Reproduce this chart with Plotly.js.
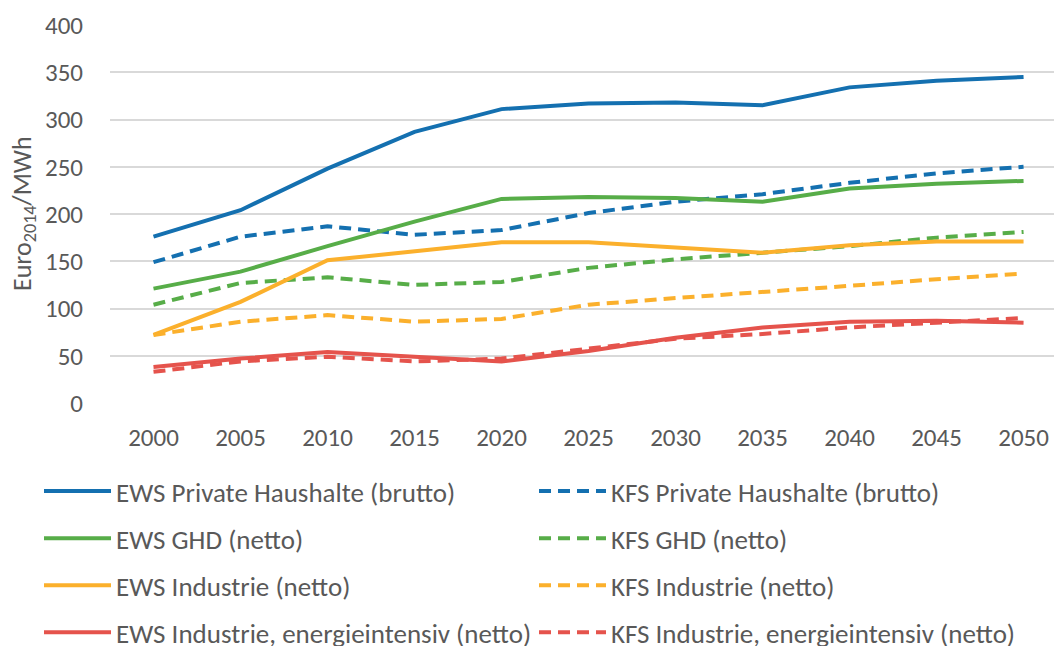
<!DOCTYPE html>
<html>
<head>
<meta charset="utf-8">
<script src="https://cdn.plot.ly/plotly-3.0.1.min.js"></script>
<style>html,body{margin:0;padding:0;overflow:hidden;background:#fff}</style>
</head>
<body>
<div id="chart" style="width:1054px;height:646px"></div>
<script>
const years = ['2000','2005','2010','2015','2020','2025','2030','2035','2040','2045','2050'];
const ewsPrivate = [176, 204, 248, 287, 311, 317, 318, 315, 334, 341, 345];
const kfsPrivate = [149, 176, 187, 178, 183, 201, 213, 221, 233, 243, 250];
const ewsGHD = [121, 139, 166, 192, 216, 218, 217, 213, 227, 232, 235];
const kfsGHD = [104, 127, 133, 125, 128, 143, 152, 159, 166, 175, 181];
const ewsInd = [72, 107, 151, 161, 170, 170, 165, 159, 167, 171, 171];
const kfsInd = [72, 86, 93, 86, 89, 104, 111, 117, 124, 131, 137];
const ewsEI = [38, 47, 54, 49, 44, 55, 69, 80, 86, 87, 85];
const kfsEI = [33, 44, 49, 44, 47, 58, 68, 73, 80, 85, 90];
const yTitle = 'Euro<sub>2014</sub>/MWh';

const names = [
  'EWS Private Haushalte (brutto)', 'KFS Private Haushalte (brutto)',
  'EWS GHD (netto)', 'KFS GHD (netto)',
  'EWS Industrie (netto)', 'KFS Industrie (netto)',
  'EWS Industrie, energieintensiv (netto)', 'KFS Industrie, energieintensiv (netto)'
];
const series = [ewsPrivate, kfsPrivate, ewsGHD, kfsGHD, ewsInd, kfsInd, ewsEI, kfsEI];
const colors = ['#1470b0','#1470b0','#57ad48','#57ad48','#fbb02c','#fbb02c','#e5534c','#e5534c'];

const traces = series.map((v, i) => ({
  x: years, y: v, name: names[i], type: 'scatter', mode: 'lines',
  line: {color: colors[i], width: 4, dash: i % 2 ? '12px,7px' : 'solid'},
  legend: i % 2 ? 'legend2' : 'legend',
  legendgroup: 'g' + i,
  hoverinfo: 'x+y+name'
}));

const fam = 'Calibri, Carlito, "Open Sans", sans-serif';
const grey = '#595959';
const legBase = {
  orientation: 'v', xanchor: 'left', yanchor: 'top',
  xref: 'container', yref: 'container', y: 1 - 467 / 646,
  font: {family: fam, color: grey, size: 27},
  tracegroupgap: 9, bgcolor: 'rgba(0,0,0,0)', itemwidth: 67
};

const layout = {
  width: 1054, height: 646,
  margin: {l: 110, r: 0, t: 25, b: 243, autoexpand: false},
  paper_bgcolor: '#fff', plot_bgcolor: '#fff',
  font: {family: fam, color: grey},
  showlegend: true,
  xaxis: {
    type: 'category', range: [-0.5, 10.35],
    showgrid: false, zeroline: false, showline: false,
    ticks: 'outside', ticklen: 12, tickcolor: 'rgba(0,0,0,0)',
    tickfont: {family: fam, size: 25, color: grey}
  },
  yaxis: {
    range: [0, 400], dtick: 50, tick0: 0,
    showgrid: true, gridcolor: '#d9d9d9', gridwidth: 1.5,
    zeroline: false, showline: false,
    ticks: 'outside', ticklen: 21, tickcolor: 'rgba(0,0,0,0)',
    tickfont: {family: fam, size: 25, color: grey}
  },
  annotations: [{
    text: yTitle, textangle: -90, showarrow: false,
    xref: 'paper', yref: 'paper', x: (23 - 110) / 944, y: 0.5,
    xanchor: 'center', yanchor: 'middle',
    font: {family: fam, size: 26, color: grey}
  }],
  legend: Object.assign({}, legBase, {x: 39 / 1054}),
  legend2: Object.assign({}, legBase, {x: 534 / 1054})
};

Plotly.newPlot('chart', traces, layout, {displayModeBar: false, responsive: false});
</script>
</body>
</html>
